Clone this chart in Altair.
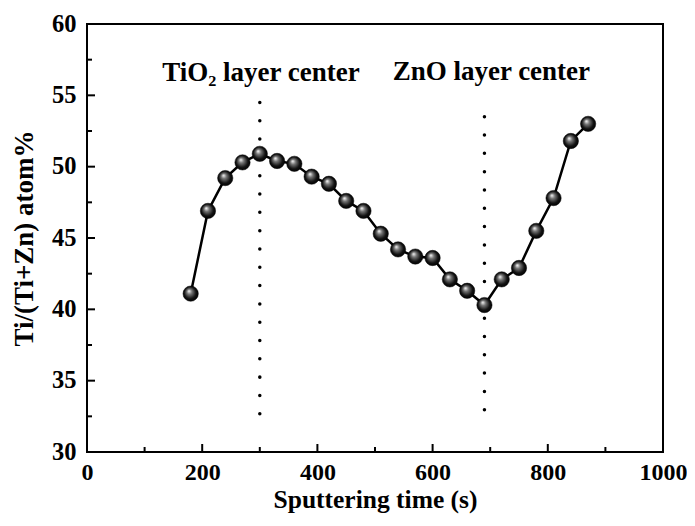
import altair as alt
import pandas as pd

# ---- data ----
time_s = [180, 210, 240, 270, 300, 330, 360, 390, 420, 450, 480, 510,
          540, 570, 600, 630, 660, 690, 720, 750, 780, 810, 840, 870]
ti_ratio = [41.1, 46.9, 49.2, 50.3, 50.9, 50.4, 50.2, 49.3, 48.8, 47.6, 46.9, 45.3,
            44.2, 43.7, 43.6, 42.1, 41.3, 40.3, 42.1, 42.9, 45.5, 47.8, 51.8, 53.0]

center_x = [300, 690]
center_top = [54.5, 53.5]
center_bottom = [32.6, 31.7]

label_text = ["TiO\u2082 layer center", "ZnO layer center"]
label_x = [302, 702]
label_y = [56.0, 56.05]

x_major = [0, 200, 400, 600, 800, 1000]
x_minor = [100, 300, 500, 700, 900]
y_major = [30, 35, 40, 45, 50, 55, 60]
y_minor = [32.5, 37.5, 42.5, 47.5, 52.5, 57.5]

W, H = 576, 428
FONT = "Liberation Serif"

df = pd.DataFrame({"t": time_s, "r": ti_ratio})
df_c = pd.DataFrame({"x": center_x, "y1": center_top, "y2": center_bottom})
df_l = pd.DataFrame({"x": label_x, "y": label_y, "txt": label_text})

xs = alt.Scale(domain=[0, 1000], nice=False, zero=False)
ys = alt.Scale(domain=[30, 60], nice=False, zero=False)

x_axis = alt.Axis(values=x_major, format="d", ticks=False, domain=False, grid=False,
                  title="Sputtering time (s)", labelFont=FONT, labelFontSize=24,
                  labelFontWeight="bold", labelColor="black", labelPadding=8,
                  titleFont=FONT, titleFontSize=25.5, titleFontWeight="bold",
                  titleColor="black", titlePadding=3, labelFlush=False)
y_axis = alt.Axis(values=y_major, format="d", ticks=False, domain=False, grid=False,
                  title="Ti/(Ti+Zn) atom%", labelFont=FONT, labelFontSize=24.5,
                  labelFontWeight="bold", labelColor="black", labelPadding=11,
                  titleFont=FONT, titleFontSize=27, titleFontWeight="bold",
                  titleColor="black", titlePadding=13, labelFlush=False)

base = alt.Chart(df)

line = base.mark_line(color="black", strokeWidth=2.5).encode(
    x=alt.X("t:Q", scale=xs, axis=x_axis),
    y=alt.Y("r:Q", scale=ys, axis=y_axis),
)

grad = alt.RadialGradient(
    gradient="radial",
    stops=[alt.GradientStop(offset=0, color="#ffffff"),
           alt.GradientStop(offset=0.3, color="#777777"),
           alt.GradientStop(offset=0.7, color="#111111"),
           alt.GradientStop(offset=1, color="#000000")],
    x1=0.38, y1=0.32, r1=0, x2=0.5, y2=0.5, r2=0.55,
)
pts = base.mark_point(shape="circle", filled=True, fill=grad, size=235,
                      stroke="black", strokeWidth=0.5, opacity=1).encode(
    x=alt.X("t:Q", scale=xs), y=alt.Y("r:Q", scale=ys))

dots = alt.Chart(df_c).mark_rule(color="black", strokeWidth=3.5,
                                 strokeDash=[0.01, 18.3], strokeCap="round").encode(
    x=alt.X("x:Q", scale=xs), y=alt.Y("y1:Q", scale=ys), y2="y2:Q")

labels = alt.Chart(df_l).mark_text(font=FONT, fontSize=27, fontWeight="bold",
                                   color="black", baseline="alphabetic",
                                   align="center").encode(
    x=alt.X("x:Q", scale=xs), y=alt.Y("y:Q", scale=ys), text="txt:N")

def xticks(vals, length):
    return alt.Chart(pd.DataFrame({"v": vals})).mark_rule(color="black", strokeWidth=2).encode(
        x=alt.X("v:Q", scale=xs), y=alt.value(H), y2=alt.value(H - length))

def yticks(vals, length):
    return alt.Chart(pd.DataFrame({"v": vals})).mark_rule(color="black", strokeWidth=2).encode(
        y=alt.Y("v:Q", scale=ys), x=alt.value(0), x2=alt.value(length))

chart = alt.layer(
    xticks(x_major, 8), xticks(x_minor, 5), yticks(y_major, 8), yticks(y_minor, 5),
    dots, line, pts, labels
).properties(
    width=W, height=H,
    autosize=alt.AutoSizeParams(type="none"),
    padding={"left": 79, "top": 16, "right": 24, "bottom": 66},
    background="white",
).configure_view(stroke="black", strokeWidth=2)

chart.save("out.html", embed_options={"renderer": "svg", "actions": False})
